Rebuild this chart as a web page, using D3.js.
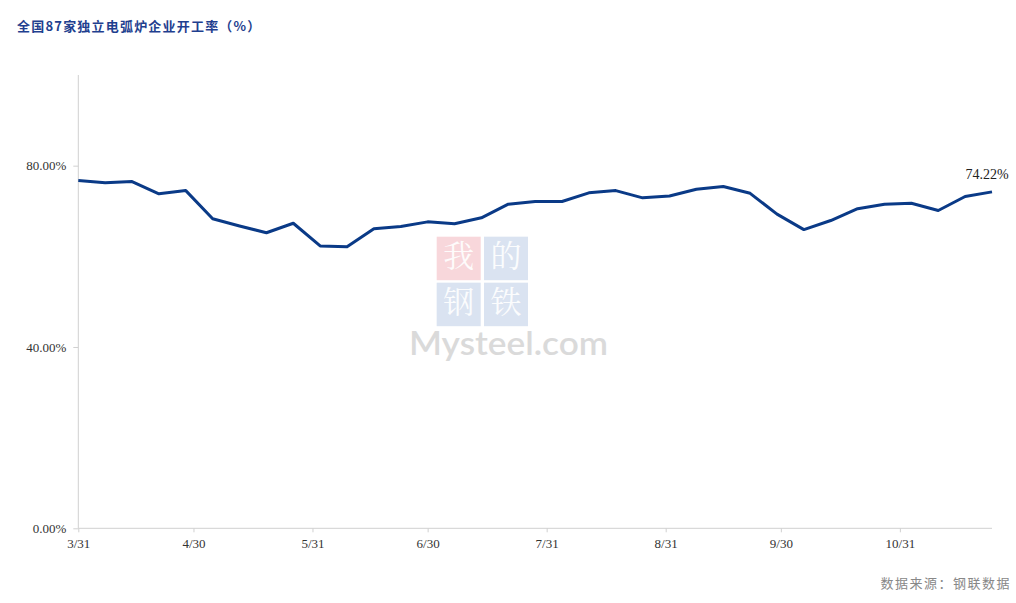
<!DOCTYPE html>
<html><head><meta charset="utf-8">
<script src="https://cdn.jsdelivr.net/npm/d3@7"></script>
<style>body{margin:0;background:#fff}svg{display:block}</style>
</head><body>
<svg id="c" width="1016" height="603"></svg>
<script>
const startDate = "2022-03-31";
const values = [76.7, 76.25, 76.5, 73.8, 74.5, 68.3, 66.7, 65.2, 67.3, 62.3, 62.1, 66.1, 66.6, 67.6, 67.2, 68.5, 71.5, 72.1, 72.1, 74.0, 74.5, 72.9, 73.3, 74.8, 75.4, 73.9, 69.3, 65.9, 67.9, 70.5, 71.5, 71.7, 70.1, 73.2, 74.22];
const xTickLabels = ["3/31","4/30","5/31","6/30","7/31","8/31","9/30","10/31"];
const xTickDates = ["2022-03-31","2022-04-30","2022-05-31","2022-06-30","2022-07-31","2022-08-31","2022-09-30","2022-10-31"];
const yTicks = [0, 40, 80];
const title = "全国87家独立电弧炉企业开工率（%）";
const source = "数据来源：钢联数据";

const parse = d3.utcParse("%Y-%m-%d");
const t0 = parse(startDate);
const data = values.map((v,i)=>({date:d3.utcDay.offset(t0, 7*i), v}));
const svg = d3.select("#c");
const L=78.3, R=992, T=75, B=528.3;
const x = d3.scaleUtc().domain([data[0].date, data[data.length-1].date]).range([L,R]);
const y = d3.scaleLinear().domain([0,100]).range([B,T]);

// watermark
const wm = svg.append("g");
const boxes = [["我","#f6c9cf",436.7,236.7],["的","#cdd9ec",484,236.7],["钢","#cdd9ec",436.7,282.7],["铁","#cdd9ec",484,282.7]];
boxes.forEach(b=>{
  wm.append("rect").attr("x",b[2]).attr("y",b[3]).attr("width",44).attr("height",43.5).attr("fill",b[1]).attr("opacity",0.75);
  wm.append("text").attr("x",b[2]+22).attr("y",b[3]+30).attr("text-anchor","middle")
    .attr("font-family","Noto Serif CJK SC, Noto Sans CJK SC").attr("font-size",31).attr("fill","#fff").attr("opacity",0.9).text(b[0]);
});
wm.append("text").attr("x",409).attr("y",355).attr("font-family","Lato, Open Sans, Arial").attr("font-size",32)
  .attr("font-weight",600).attr("fill","#dadada").attr("textLength",199).attr("lengthAdjust","spacingAndGlyphs").text("Mysteel.com");

// axes
const gx = svg.append("g").attr("transform",`translate(0,${B})`)
  .call(d3.axisBottom(x).tickValues(xTickDates.map(parse)).tickFormat((d,i)=>xTickLabels[i]).tickSize(4).tickSizeOuter(0));
const gy = svg.append("g").attr("transform",`translate(${L},0)`)
  .call(d3.axisLeft(y).tickValues(yTicks).tickFormat(d=>d3.format(".2f")(d)+"%").tickSize(5).tickSizeOuter(0).tickPadding(7));
[gx,gy].forEach(g=>{
  g.selectAll("path,line").attr("stroke","#d0d0d0");
  g.selectAll("text").attr("font-family","Liberation Serif, Times New Roman, serif").attr("font-size",13).attr("fill","#333");
});
gx.select(".domain").attr("d",`M${L},0H${R}`);
gy.select(".domain").attr("d",`M0,${B}V${T}`);
gx.selectAll("text").attr("dy","1.0em");
gy.selectAll("text").attr("dy","0.32em");

// line
svg.append("path").datum(data)
  .attr("d", d3.line().x(d=>x(d.date)).y(d=>y(d.v)))
  .attr("fill","none").attr("stroke","#0a3a87").attr("stroke-width",3).attr("stroke-linejoin","round");

const last = data[data.length-1];
svg.append("text").attr("x",x(last.date)-5).attr("y",y(last.v)-13).attr("text-anchor","middle")
  .attr("font-family","Liberation Serif, Times New Roman, serif").attr("font-size",14).attr("fill","#222")
  .text(d3.format(".2f")(last.v)+"%");

// title and source
svg.append("text").attr("x",17).attr("y",31).attr("font-family","Noto Sans CJK SC").attr("font-weight","bold")
  .attr("font-size",13).attr("letter-spacing",1.2).attr("fill","#1f3f8f").text(title);
svg.append("text").attr("x",1011).attr("y",588).attr("text-anchor","end").attr("font-family","Noto Sans CJK SC")
  .attr("font-size",13).attr("fill","#888").attr("letter-spacing",1.5).text(source);
</script>
</body></html>
